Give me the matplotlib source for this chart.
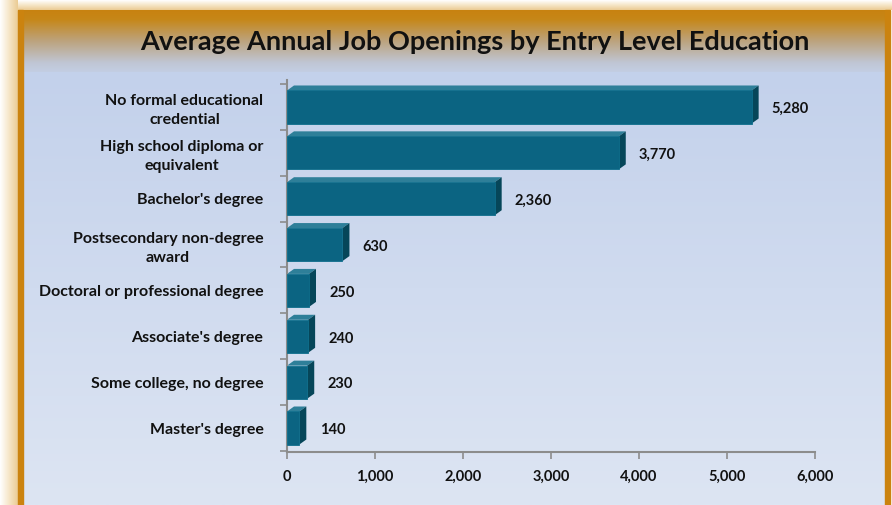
import numpy as np
import matplotlib
matplotlib.use("Agg")
import matplotlib.pyplot as plt
from matplotlib.colors import LinearSegmentedColormap
from matplotlib.patches import Polygon, Rectangle

categories = [
    "No formal educational\ncredential",
    "High school diploma or\nequivalent",
    "Bachelor's degree",
    "Postsecondary non-degree\naward",
    "Doctoral or professional degree",
    "Associate's degree",
    "Some college, no degree",
    "Master's degree",
]
values = [5280, 3770, 2360, 630, 250, 240, 230, 140]
value_labels = ["5,280", "3,770", "2,360", "630", "250", "240", "230", "140"]
xticks = [0, 1000, 2000, 3000, 4000, 5000, 6000]
xtick_labels = ["0", "1,000", "2,000", "3,000", "4,000", "5,000", "6,000"]
title = "Average Annual Job Openings by Entry Level Education"

plt.rcParams['font.family'] = ['Lato', 'DejaVu Sans']

W, H = 892, 505
fig = plt.figure(figsize=(W / 100, H / 100), dpi=100)

# ---- background ----
bg = fig.add_axes([0, 0, 1, 1])
bg.set_xlim(0, W)
bg.set_ylim(H, 0)
bg.axis('off')
bg.add_patch(Rectangle((0, 0), W, H, color='#FFFFFF', zorder=0))
glow = LinearSegmentedColormap.from_list('glow', ['#FFFFFF', '#F6E6C8', '#EBCB94'])
gx = np.linspace(0, 1, 64).reshape(1, -1)
bg.imshow(gx, cmap=glow, extent=[0, 18, H, 0], aspect='auto', zorder=0.5)
bg.imshow(gx.T, cmap=glow, extent=[0, W, 10, 0], aspect='auto', zorder=0.4)
hdr = LinearSegmentedColormap.from_list('hdr', [(0, '#C88210'), (0.15, '#C68718'), (0.5, '#BCA37E'), (0.85, '#C0C6D4'), (1, '#C3CEE3')])
grad = np.linspace(0, 1, 256).reshape(-1, 1)
bg.imshow(grad, cmap=hdr, extent=[18, 890, 72, 10], aspect='auto', zorder=1)
pan = LinearSegmentedColormap.from_list('pan', ['#C3D1EB', '#DDE5F3'])
bg.imshow(grad, cmap=pan, extent=[18, 890, H, 72], aspect='auto', zorder=1)
bg.add_patch(Rectangle((18, 10), 4.5, H, color='#CB830F', zorder=2))
bg.add_patch(Rectangle((885, 10), 5, H, color='#CB830F', zorder=2))
bg.text(475, 42, title, ha='center', va='center', fontsize=19.5, fontweight='bold', color='#111111', zorder=3)

# ---- plot area ----
left, right, top, bottom = 287, 815, 80, 452
ax = fig.add_axes([left / W, 1 - bottom / H, (right - left) / W, (bottom - top) / H])
ax.patch.set_alpha(0)
xmin, xmax = 0, 6000
ax.set_xlim(xmin, xmax)
ppu = 45.86
ax.set_ylim(7 + 24 / ppu, -27 / ppu)

n = len(categories)
ys = np.arange(n)
bh = 0.72
front = '#0B6482'
side = '#064659'
topc = '#2E7F99'
dx = 7 / ((right - left) / (xmax - xmin))
dy = 5 / ppu
for y, v, lab in zip(ys, values, value_labels):
    y0, y1 = y - bh / 2, y + bh / 2
    ax.add_patch(Polygon([(0, y0), (v, y0), (v + dx, y0 - dy), (dx, y0 - dy)], closed=True,
                         facecolor=topc, edgecolor='none', zorder=2))
    ax.add_patch(Polygon([(v, y0), (v + dx, y0 - dy), (v + dx, y1 - dy), (v, y1)], closed=True,
                         facecolor=side, edgecolor='none', zorder=2))
    ax.barh(y, v, height=bh, color=front, edgecolor='#0E6E8C', linewidth=0.6, zorder=3)
    ax.text(v + dx + 150, y + 0.05, lab, ha='left', va='center', fontsize=10.5,
            fontweight='bold', color='#111111')

ax.set_yticks(ys)
ax.set_yticklabels(categories, fontsize=11.5, fontweight='bold', color='#111111',
                   multialignment='center', linespacing=1.45)
ax.tick_params(axis='y', length=0, pad=17)
ax.set_yticks(np.arange(-0.5, n, 1), minor=True)
ax.tick_params(axis='y', which='minor', length=5, color='#8C8C8C', width=1.2)

ax.set_xticks(xticks)
ax.set_xticklabels(xtick_labels, fontsize=10.5, fontweight='bold', color='#111111')
ax.tick_params(axis='x', length=5, color='#8C8C8C', width=1.2, direction='out', pad=8)

for s in ['top', 'right']:
    ax.spines[s].set_visible(False)
for s in ['left', 'bottom']:
    ax.spines[s].set_color('#8C8C8C')
    ax.spines[s].set_linewidth(1.5)

fig.savefig('out.png', dpi=100)
